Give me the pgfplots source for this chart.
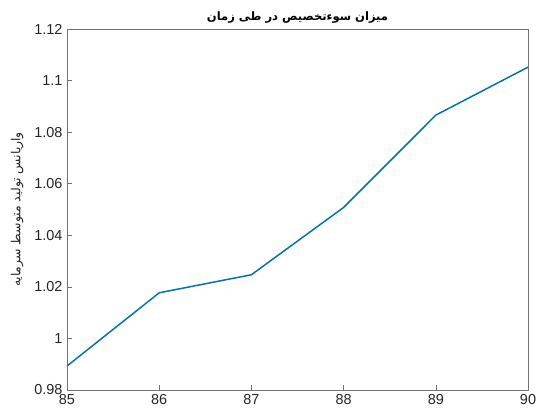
\documentclass[border=0pt]{standalone}
\usepackage{fontspec}
\setmainfont{Liberation Sans}
\newfontfamily\arabicfont[Script=Arabic]{DejaVu Sans}
\usepackage{pgfplots}
\pgfplotsset{compat=1.18}
\TeXXeTstate=1
\definecolor{mblue}{rgb}{0,0.447,0.741}
\definecolor{axgray}{rgb}{0.15,0.15,0.15}
\definecolor{boxgray}{rgb}{0.45,0.45,0.45}
\begin{document}
\begin{tikzpicture}[x=1bp,y=1bp]
\path[use as bounding box] (-67,-21) rectangle (471,390);
\begin{axis}[
  at={(0,0)}, anchor=south west,
  scale only axis, width=461bp, height=361bp,
  xmin=85, xmax=90, ymin=0.98, ymax=1.12,
  xtick={85,86,87,88,89,90},
  ytick={0.98,1,1.02,1.04,1.06,1.08,1.1,1.12},
  yticklabels={0.98,1,1.02,1.04,1.06,1.08,1.1,1.12},
  xticklabels={85,86,87,88,89,90},
  tick align=inside, tick pos=left,
  major tick length=5bp,
  axis line style={boxgray, line width=0.6pt},
  tick style={boxgray, line width=0.6pt},
  ticklabel style={font=\fontsize{14.5}{16}\selectfont, text=axgray},
  yticklabel style={xshift=-1bp},
  xticklabel style={yshift=-1bp},
  title={\arabicfont\bfseries\fontsize{11.6}{13}\selectfont\beginR میزان سوءتخصیص در طی زمان\endR},
  title style={yshift=-4bp},
  ylabel={\arabicfont\fontsize{12.5}{14}\selectfont\beginR واریانس تولید متوسط سرمایه\endR},
  ylabel style={text=axgray, yshift=4bp},
]
\addplot[mblue, line width=1.5pt] coordinates {
(85,0.9893) (86,1.0177) (87,1.0247) (88,1.0508) (89,1.0866) (90,1.1052)
};
\end{axis}
\end{tikzpicture}
\end{document}
